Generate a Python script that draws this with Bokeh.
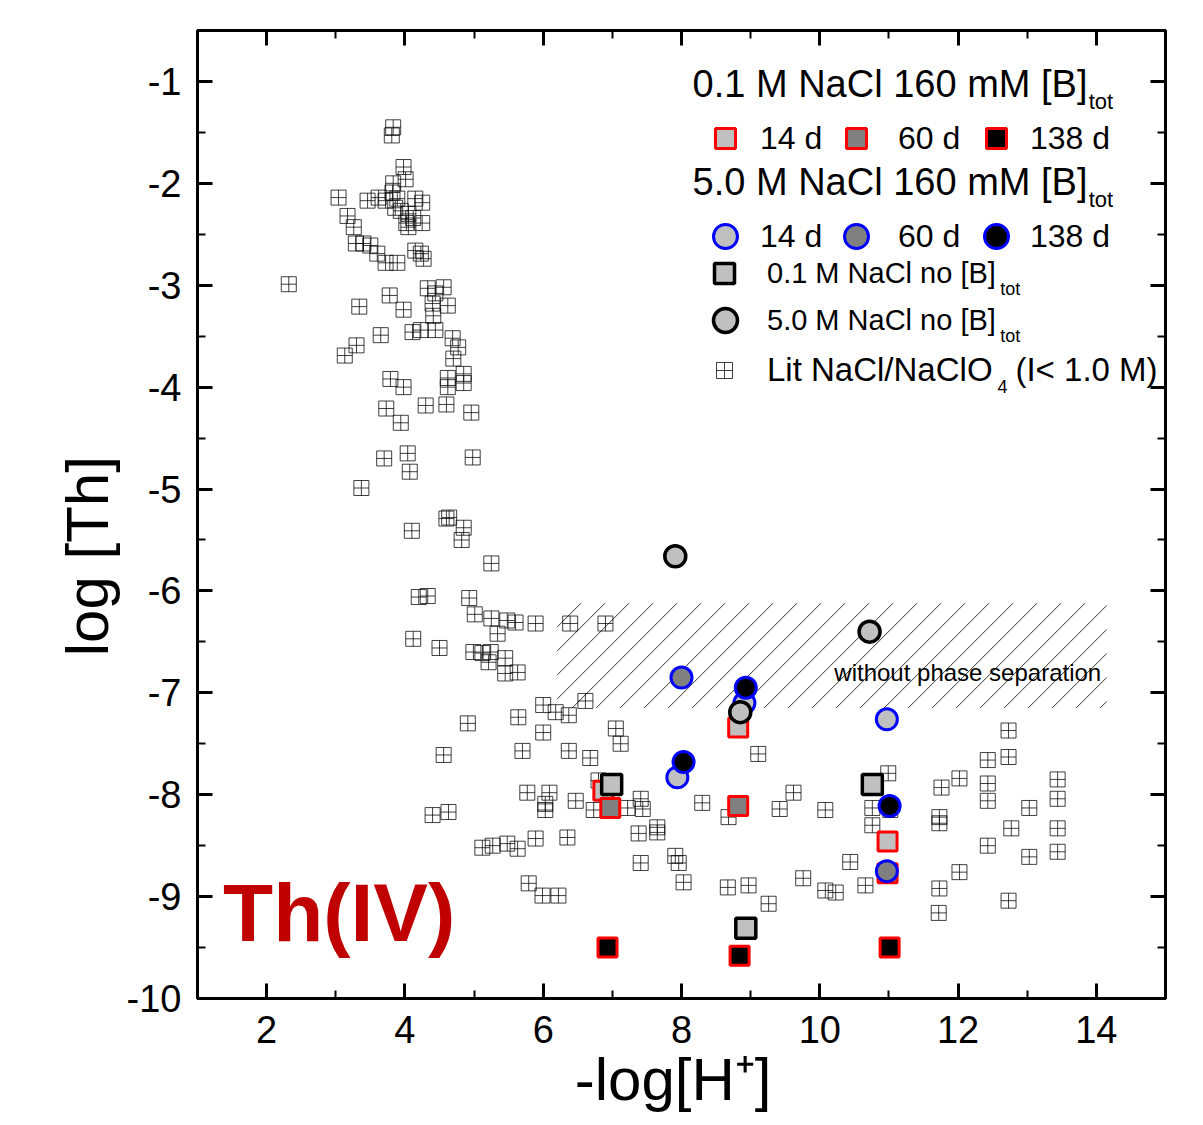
import numpy as np
from bokeh.plotting import figure
from bokeh.models import (Range1d, LinearAxis, SingleIntervalTicker, Label, Legend, LegendItem,
                          CustomLabelingPolicy)
from bokeh.embed import file_html
from bokeh.resources import INLINE

FONT = "Liberation Sans"

# ---------------- data ----------------
# Literature data NaCl/NaClO4 (I < 1.0 M)
lit_x = [3.83, 3.81, 3.98, 4.01, 3.83, 3.82, 3.04, 3.46, 3.62, 3.72, 3.89, 3.86, 3.94, 4.15,
         4.25, 4.05, 4.12, 4.25, 4.02, 4.05, 3.17, 3.26, 3.29, 3.40, 3.50, 3.60, 3.72, 3.89,
         4.15, 4.23, 4.27, 2.32, 3.78, 3.34, 3.98, 4.33, 4.56, 4.44, 4.40, 4.62, 4.41, 3.65,
         4.11, 4.23, 4.44, 4.69, 4.77, 4.70, 4.62, 4.85, 4.85, 4.62, 3.98, 3.79, 3.30, 3.13,
         3.73, 3.94, 4.30, 4.60, 4.96, 3.70, 4.04, 4.07, 4.98, 3.37, 4.60, 4.64, 4.85, 4.82,
         4.10, 5.25, 4.20, 4.33, 4.93, 5.01, 5.25, 5.48, 5.60, 5.89, 6.39, 6.90, 5.34, 4.12,
         4.50, 4.99, 5.12, 5.24, 5.21, 5.45, 5.45, 5.63, 4.91, 4.56, 6.00, 6.18, 6.37, 6.61,
         5.64, 6.00, 7.05, 7.12, 5.70, 6.37, 6.68, 6.80, 5.77, 6.09, 6.03, 6.03, 6.47, 6.73,
         7.22, 7.41, 7.44, 7.65, 7.65, 7.38, 8.30, 4.40, 4.63, 5.12, 5.27, 5.48, 5.63, 5.89,
         6.35, 7.41, 7.91, 7.96, 8.03, 5.79, 5.99, 6.22, 8.68, 9.42, 9.62, 10.08, 9.11, 10.99,
         10.76, 10.76, 8.67, 8.97, 9.26, 9.76, 10.08, 10.23, 10.66, 10.44, 12.73, 12.73, 12.43,
         12.02, 11.76, 12.43, 12.43, 13.44, 13.44, 13.03, 11.02, 11.73, 11.73, 12.77, 13.44,
         13.03, 13.44, 12.43, 12.02, 11.73, 11.72, 12.73]
lit_y = [-1.45, -1.53, -1.84, -1.96, -2.00, -2.09, -2.14, -2.17, -2.14, -2.17, -2.15, -2.24,
         -2.27, -2.15, -2.19, -2.30, -2.34, -2.39, -2.39, -2.43, -2.32, -2.43, -2.59, -2.59,
         -2.61, -2.69, -2.78, -2.78, -2.66, -2.69, -2.74, -2.99, -3.10, -3.21, -3.24, -3.03,
         -3.02, -3.08, -3.18, -3.20, -3.30, -3.49, -3.46, -3.44, -3.44, -3.52, -3.61, -3.72,
         -3.91, -3.87, -3.96, -4.00, -4.00, -3.92, -3.59, -3.69, -4.21, -4.35, -4.18, -4.17,
         -4.25, -4.70, -4.65, -4.83, -4.69, -4.99, -5.29, -5.28, -5.38, -5.50, -5.41, -5.73,
         -6.06, -6.05, -6.07, -6.23, -6.27, -6.29, -6.31, -6.32, -6.32, -6.32, -6.42, -6.47,
         -6.56, -6.60, -6.61, -6.60, -6.70, -6.66, -6.81, -6.80, -7.30, -7.61, -7.12, -7.19,
         -7.22, -7.08, -7.24, -7.39, -7.35, -7.50, -7.57, -7.57, -7.64, -7.86, -7.98, -7.98,
         -8.09, -8.15, -8.06, -8.15, -8.13, -8.04, -8.14, -8.32, -8.37, -8.38, -8.08, -8.20,
         -8.17, -8.52, -8.50, -8.48, -8.53, -8.43, -8.42, -8.67, -8.60, -8.67, -8.86, -8.87,
         -8.99, -8.99, -8.22, -8.14, -7.98, -8.15, -7.60, -7.79, -8.13, -8.30, -8.91, -8.89,
         -9.07, -8.82, -8.94, -8.96, -8.89, -8.66, -7.37, -7.63, -7.66, -7.84, -7.93, -7.89,
         -8.06, -7.85, -8.04, -8.13, -8.15, -8.22, -8.28, -8.33, -8.33, -8.61, -8.56, -8.50,
         -8.76, -8.92, -9.16, -9.04]

# 0.1 M NaCl, 160 mM [B]tot
b01_14d_x = [6.87, 8.82, 10.98]
b01_14d_y = [-7.96, -7.34, -8.46]
b01_60d_x = [6.97, 8.82, 10.98]
b01_60d_y = [-8.13, -8.11, -8.77]
b01_138d_x = [6.93, 8.84, 11.01]
b01_138d_y = [-9.50, -9.58, -9.50]
# 5.0 M NaCl, 160 mM [B]tot
b50_14d_x = [7.94, 8.91, 10.97]
b50_14d_y = [-7.83, -7.10, -7.26]
b50_60d_x = [8.00, 10.97]
b50_60d_y = [-6.85, -8.75]
b50_138d_x = [8.03, 8.93, 11.01]
b50_138d_y = [-7.68, -6.95, -8.11]
# no [B]tot
nob01_x = [6.99, 8.93, 10.76]
nob01_y = [-7.90, -9.31, -7.90]
nob50_x = [7.91, 8.85, 10.72]
nob50_y = [-5.66, -7.19, -6.40]

# region without phase separation
region_x = [6.2, 14.15]
region_y = [-7.15, -6.12]

y_tick_values = [-1, -2, -3, -4, -5, -6, -7, -8, -9, -10]
x_ticks_interval = 2
y_ticks_interval = 1

X_RANGE = (1, 15)
Y_RANGE = (-10, -0.5)
FRAME_W, FRAME_H = 968, 968

# ---------------- figure ----------------
NB = "\u00A0"
p = figure(width=1193, height=1123, x_range=Range1d(*X_RANGE), y_range=Range1d(*Y_RANGE),
           output_backend="svg", toolbar_location=None,
           min_border_left=197, min_border_right=28, min_border_top=30, min_border_bottom=125,
           x_axis_label="-log[H\u207A]" + NB, y_axis_label="log [Th]" + NB * 5)
p.xgrid.visible = False
p.ygrid.visible = False
p.outline_line_color = "black"
p.outline_line_width = 3
p.background_fill_color = "white"

p.xaxis.ticker = SingleIntervalTicker(interval=x_ticks_interval, num_minor_ticks=2)
p.yaxis.ticker = SingleIntervalTicker(interval=y_ticks_interval, num_minor_ticks=2)
p.yaxis.major_label_overrides = {v: str(v) for v in y_tick_values}


def style_axis(ax, labels=True):
    ax.axis_line_width = 3
    ax.axis_line_color = "black"
    ax.major_tick_in = 15
    ax.major_tick_out = 0
    ax.minor_tick_in = 8
    ax.minor_tick_out = 0
    ax.major_tick_line_width = 3
    ax.minor_tick_line_width = 2
    ax.major_tick_line_color = "black"
    ax.minor_tick_line_color = "black"
    ax.major_label_text_font = FONT
    ax.major_label_text_color = "black"
    if labels:
        ax.major_label_text_font_size = "38px"
        ax.axis_label_text_font = FONT
        ax.axis_label_text_font_size = "60px"
        ax.axis_label_text_font_style = "normal"
        ax.axis_label_text_color = "black"
    else:
        # mirror axis: ticks only, no labels drawn
        ax.major_label_text_font_size = "1px"
        ax.major_label_policy = CustomLabelingPolicy(
            code="for (const i of indices) { if (false) yield i }")
        ax.major_label_standoff = 0


style_axis(p.xaxis[0])
style_axis(p.yaxis[0])
p.xaxis.major_label_standoff = 17
p.xaxis.axis_label_standoff = 0
p.yaxis.major_label_standoff = 16
p.yaxis.axis_label_standoff = 3

top_ax = LinearAxis(ticker=SingleIntervalTicker(interval=x_ticks_interval, num_minor_ticks=2))
right_ax = LinearAxis(ticker=SingleIntervalTicker(interval=y_ticks_interval, num_minor_ticks=2))
style_axis(top_ax, labels=False)
style_axis(right_ax, labels=False)
p.add_layout(top_ax, "above")
p.add_layout(right_ax, "right")

# hatched region (45 degree lines on screen, ~24 px apart horizontally)
px_x = FRAME_W / (X_RANGE[1] - X_RANGE[0])
px_y = FRAME_H / (Y_RANGE[1] - Y_RANGE[0])
slope = px_x / px_y
step = 24 / px_x
left, right = region_x
bottom, top = region_y
span = (top - bottom) / slope
starts = np.arange(left - span, right, step)
hx0 = np.maximum(starts, left)
hx1 = np.minimum(starts + span, right)
hy0 = bottom + (hx0 - starts) * slope
hy1 = bottom + (hx1 - starts) * slope
keep = hx1 > hx0
p.segment(hx0[keep], hy0[keep], hx1[keep], hy1[keep], line_color="#333333", line_width=1)

# literature
r_lit = p.scatter(lit_x, lit_y, marker="square_cross", size=15, fill_color=None,
                  line_color="black", line_alpha=0.75, line_width=1)

LG, MG = "#C0C0C0", "#808080"
r_b01_14 = p.scatter(b01_14d_x, b01_14d_y, marker="square", size=19, fill_color=LG,
                     line_color="#FF0000", line_width=3)
r_b01_60 = p.scatter(b01_60d_x, b01_60d_y, marker="square", size=19, fill_color=MG,
                     line_color="#FF0000", line_width=3)
r_b01_138 = p.scatter(b01_138d_x, b01_138d_y, marker="square", size=19, fill_color="black",
                      line_color="#FF0000", line_width=3)
r_b50_14 = p.scatter(b50_14d_x, b50_14d_y, marker="circle", size=21, fill_color=LG,
                     line_color="#0000FF", line_width=3)
r_b50_60 = p.scatter(b50_60d_x, b50_60d_y, marker="circle", size=21, fill_color=MG,
                     line_color="#0000FF", line_width=3)
r_b50_138 = p.scatter(b50_138d_x, b50_138d_y, marker="circle", size=21, fill_color="black",
                      line_color="#0000FF", line_width=3)
r_nob01 = p.scatter(nob01_x, nob01_y, marker="square", size=20, fill_color=LG,
                    line_color="black", line_width=3.5)
r_nob50 = p.scatter(nob50_x, nob50_y, marker="circle", size=21, fill_color=LG,
                    line_color="black", line_width=3.5)


def txt(x, y, s, size, align="left", **kw):
    p.add_layout(Label(x=x, y=y, text=s, text_font=FONT, text_font_size=size,
                       text_color=kw.pop("color", "black"), text_align=align,
                       text_baseline="middle", **kw))


# annotations
txt(12.14, -6.80, "without phase separation", "24px", align="center")
txt(1.37, -9.16, "Th(IV)", "82px", color="#C00000", text_font_style="bold")


# legend
def add_legend(label, renderer, loc, glyph, standoff, size):
    lg = Legend(items=[LegendItem(label=label, renderers=[renderer])], location=loc,
                padding=0, margin=0, spacing=0, glyph_width=glyph, glyph_height=glyph,
                label_height=glyph, label_standoff=standoff,
                label_text_font=FONT, label_text_font_size=size,
                label_text_color="black", label_text_baseline="middle",
                background_fill_alpha=0, border_line_alpha=0)
    p.add_layout(lg)


add_legend("14 d", r_b01_14, (503, 835), 50, 10, "32px")
add_legend("60 d", r_b01_60, (634, 835), 50, 17, "32px")
add_legend("138 d", r_b01_138, (774, 835), 50, 9, "32px")
add_legend("14 d", r_b50_14, (498, 732), 60, 5, "32px")
add_legend("60 d", r_b50_60, (629, 732), 60, 12, "32px")
add_legend("138 d", r_b50_138, (769, 732), 60, 4, "32px")
add_legend("0.1 M NaCl no [B]", r_nob01, (502, 700), 50, 18, "29px")
add_legend("5.0 M NaCl no [B]", r_nob50, (498, 648), 60, 12, "29px")
add_legend("Lit NaCl/NaClO", r_lit, (507, 608), 40, 23, "33px")

txt(8.16, -1.024, "0.1 M NaCl 160 mM [B]", "38px")
txt(13.89, -1.197, "tot", "22px")
txt(8.16, -1.986, "5.0 M NaCl 160 mM [B]", "38px")
txt(13.89, -2.159, "tot", "22px")
txt(12.61, -3.038, "tot", "18px")
txt(12.61, -3.499, "tot", "18px")
txt(12.57, -3.990, "4", "18px")
txt(12.83, -3.83, "(I< 1.0 M)", "33px")

open("out.html", "w").write(file_html(p, INLINE))
